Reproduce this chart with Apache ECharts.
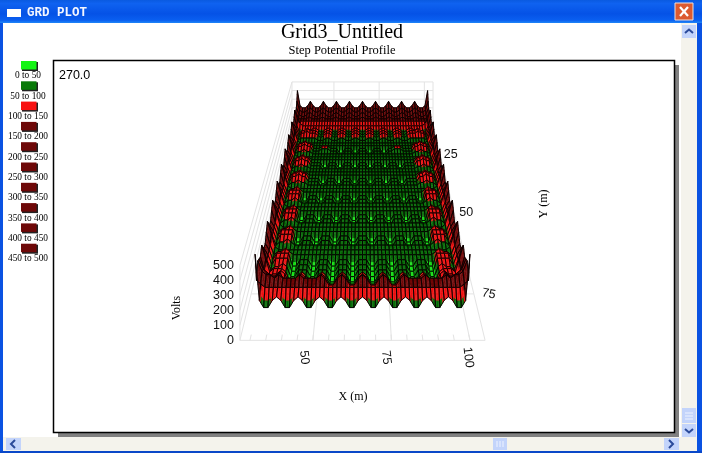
<!DOCTYPE html>
<html><head><meta charset="utf-8">
<style>html,body{margin:0;padding:0;background:#fff}#c{width:702px;height:453px}</style>
<script src="https://cdn.jsdelivr.net/npm/echarts@6/dist/echarts.min.js"></script>
</head><body><div id="c"></div>
<script>
// Surface heights. Each character is one node, in units of 25 V (0-9, a=250 ... k=500).
// Row 0 is the back edge of the surface, row 50 the front edge.
const surfaceRows = [
"g9889 b9889 b9889 b9889 b9889 b9889 b9889 b9889 b9889 b9889 g",
"c8778 98778 98778 98778 98778 98778 98778 98778 98778 98778 c",
"a7667 87667 87667 87667 87667 87667 87667 87667 87667 87667 a",
"96666 76666 76666 76666 76666 76666 76666 76666 76666 76666 9",
"86666 66666 66666 66666 66666 66666 66666 66666 66666 66666 8",
"c8655 55555 55555 55555 55555 55555 55555 55555 55555 55568 c",
"a6344 54554 34554 34554 34554 34554 34554 34554 34554 54436 a",
"86355 65554 34554 34554 34554 34554 34554 34554 34555 65536 8",
"86355 65554 34554 34554 34554 34554 34554 34554 34555 65536 8",
"a6344 44443 33443 33443 33443 33443 33443 33443 33444 44436 a",
"c8433 33333 33333 33333 33333 33333 33333 33333 33333 33348 c",
"a6344 54433 33333 33333 33333 33333 33333 33333 33344 54436 a",
"86355 65533 34443 33113 33113 33113 33113 34443 33355 65536 8",
"86355 65533 34443 33113 33113 33113 33113 34443 33355 65536 8",
"a6344 54433 33333 33333 33333 33333 33333 33333 33344 54436 a",
"c8433 33333 33333 33333 33333 33333 33333 33333 33333 33348 c",
"a6344 54433 33333 33333 33333 33333 33333 33333 33344 54436 a",
"86355 65533 33113 33113 33113 33113 33113 33113 33355 65536 8",
"86355 65533 33113 33113 33113 33113 33113 33113 33355 65536 8",
"a6344 54433 33333 33333 33333 33333 33333 33333 33344 54436 a",
"c8433 33333 33333 33333 33333 33333 33333 33333 33333 33348 c",
"a6344 54433 33333 33333 33333 33333 33333 33333 33344 54436 a",
"86355 65533 33113 33113 33113 33113 33113 33113 33355 65536 8",
"86355 65533 33113 33113 33113 33113 33113 33113 33355 65536 8",
"a6344 54433 33333 33333 33333 33333 33333 33333 33344 54436 a",
"c8433 33333 33333 33333 33333 33333 33333 33333 33333 33348 c",
"a6344 54333 33333 33333 33333 33333 33333 33333 33334 54436 a",
"86355 55113 33113 33113 33113 33113 33113 33113 33115 55536 8",
"86355 55113 33113 33113 33113 33113 33113 33113 33115 55536 8",
"a6344 54333 33333 33333 33333 33333 33333 33333 33334 54436 a",
"c8433 33333 33333 33333 33333 33333 33333 33333 33333 33348 c",
"a6344 54333 33333 33333 33333 33333 33333 33333 33334 54436 a",
"86355 55113 33113 33113 33113 33113 33113 33113 33115 55536 8",
"86355 55113 33113 33113 33113 33113 33113 33113 33115 55536 8",
"a6344 54333 33333 33333 33333 33333 33333 33333 33334 54436 a",
"c8433 33333 33333 33333 33333 33333 33333 33333 33333 33348 c",
"a6344 54333 33333 33333 33333 33333 33333 33333 33334 54436 a",
"86355 55113 33113 33113 33113 33113 33113 33113 33115 55536 8",
"86355 55113 33113 33113 33113 33113 33113 33113 33115 55536 8",
"a6344 54333 33333 33333 33333 33333 33333 33333 33334 54436 a",
"c8433 33333 33333 33333 33333 33333 33333 33333 33333 33348 c",
"a6344 54333 33333 33333 33333 33333 33333 33333 33334 54436 a",
"86355 55113 33113 33113 33113 33113 33113 33113 33115 55536 8",
"86355 55113 33113 33113 33113 33113 33113 33113 33115 55536 8",
"a6344 54113 33113 33113 33113 33113 33113 33113 33114 54436 a",
"c8455 54113 43113 43113 43113 43113 43113 43113 43114 55548 c",
"a6455 65224 54224 54224 54224 54224 54224 54224 54225 65546 a",
"b8766 75335 65335 65335 65335 65335 65335 65335 65335 76678 b",
"c9887 87777 87777 87557 87557 87557 87557 87777 87777 87889 c",
"87666 66666 66666 66666 66666 66666 66666 66666 66666 66667 8",
"h4224 54224 54224 54224 54224 54224 54224 54224 54224 54224 h"
];
const voltTicks = [0, 100, 200, 300, 400, 500];
const xTicks = [50, 75, 100];
const yTicks = [25, 50, 75];
const xMinorTicks = [30, 35, 40, 45, 50, 55, 60, 65, 70, 75, 80, 85, 90, 95, 100];
const legendLabels = ["0 to 50","50 to 100","100 to 150","150 to 200","200 to 250","250 to 300","300 to 350","350 to 400","400 to 450","450 to 500"];
const legendColors = ["#14f514","#087a08","#f81010","#6e0808","#6e0808","#6e0808","#6e0808","#6e0808","#6e0808","#6e0808"];
const bandColors = ["#14e014","#056a05","#ee1010","#6e0808"];

const heights = surfaceRows.map(r => r.replace(/ /g,'').split('').map(ch => parseInt(ch, 36) * 25));

// view of the 3D box
const surf = {x0: 29.8, dx: 1.44, y0: 8, dy: 1.44};
const box = {xMin: 26.8, xMax: 104.8, yMin: 8, yMax: 85.6};
function project(X, Y, V) {
  const w = 1 / (0.00740 - 0.0000388 * Y);
  return [362.5 + (X - 65.8) * w / 78, 125 + (w - 141) * 2.067 - (V || 0) * 0.15 * w / 245];
}

const cells = [];
const nr = heights.length, nc = heights[0].length;
for (let r = 0; r < nr - 1; r++) {
  const half = (nc - 1) / 2;
  for (let i = 0; i < half; i++) { cells.push([i, r]); cells.push([nc - 2 - i, r]); }
}

const SUB = 3;
function renderCell(params, api) {
  const c = api.value(0), r = api.value(1);
  const h00 = heights[r][c], h10 = heights[r][c + 1], h01 = heights[r + 1][c], h11 = heights[r + 1][c + 1];
  const hAt = (s, t) => (h00 * (1 - s) + h10 * s) * (1 - t) + (h01 * (1 - s) + h11 * s) * t;
  const pt = (s, t) => api.coord(project(surf.x0 + (c + s) * surf.dx, surf.y0 + (r + t) * surf.dy, hAt(s, t)));
  const kids = [];
  for (let j = 0; j < SUB; j++) for (let i = 0; i < SUB; i++) {
    const s0 = i / SUB, s1 = (i + 1) / SUB, t0 = j / SUB, t1 = (j + 1) / SUB;
    const v = hAt((s0 + s1) / 2, (t0 + t1) / 2);
    const band = v < 50 ? 0 : v < 100 ? 1 : v < 150 ? 2 : 3;
    kids.push({type: 'polygon', shape: {points: [pt(s0, t0), pt(s1, t0), pt(s1, t1), pt(s0, t1)]},
      style: {fill: bandColors[band], stroke: bandColors[band], lineWidth: 0.4}});
  }
  kids.push({type: 'polygon', shape: {points: [pt(0, 0), pt(1, 0), pt(1, 1), pt(0, 1)]},
    style: {fill: 'none', stroke: '#050101', lineWidth: 0.95}});
  return {type: 'group', children: kids};
}

function renderBox(params, api) {
  const kids = [];
  const line = (a, b) => {
    const p = api.coord(a), q = api.coord(b);
    kids.push({type: 'line', shape: {x1: p[0], y1: p[1], x2: q[0], y2: q[1]}, style: {stroke: '#e3e3e3', lineWidth: 1}});
  };
  const {xMin, xMax, yMin, yMax} = box;
  voltTicks.forEach(v => {
    line(project(xMin, yMin, v), project(xMax, yMin, v));
    line(project(xMin, yMin, v), project(xMin, yMax, v));
  });
  line(project(xMin, yMax, 0), project(xMin, yMax, 500));
  line(project(xMin, yMin, 0), project(xMin, yMin, 500));
  line(project(xMax, yMin, 0), project(xMax, yMin, 500));
  line(project(xMin, yMax, 0), project(xMax, yMax, 0));
  line(project(xMax, yMin, 0), project(xMax, yMax, 0));
  xTicks.forEach(x => { line(project(x, yMin, 0), project(x, yMax, 0)); line(project(x, yMin, 0), project(x, yMin, 500)); });
  yTicks.forEach(y => line(project(xMin, y, 0), project(xMax, y, 0)));
  xMinorTicks.forEach(x => line(project(x, yMax, 0), project(x, yMax - 1.2, 0)));
  const label = (t, pos, rot, font, align, dx, dy) => {
    const p = api.coord(pos);
    kids.push({type: 'text', x: p[0] + (dx || 0), y: p[1] + (dy || 0), rotation: rot || 0,
      style: {text: t, font: font, fill: '#111', align: align || 'center', verticalAlign: 'middle'}});
  };
  const sans = '12.5px "Liberation Sans"';
  voltTicks.forEach(v => label(String(v), project(xMin, yMax, v), 0, sans, 'right', -6, 0));
  xTicks.forEach(x => label(String(x), project(x, 90, 0), -1.45, sans, 'center', -6.5, -5));
  yTicks.forEach((y, i) => label(String(y), project(110, y, 0), i === 2 ? -0.2 : 0, sans, 'center', 0, 0));
  return {type: 'group', children: kids};
}

function renderLegend(params, api) {
  const i = api.value(0);
  const top = 61 + i * 20.3;
  const a = api.coord([21, top]);
  return {type: 'group', children: [
    {type: 'rect', shape: {x: a[0] + 1, y: a[1] + 1, width: 16, height: 9}, style: {fill: '#222'}},
    {type: 'rect', shape: {x: a[0], y: a[1], width: 15.5, height: 8.5}, style: {fill: legendColors[i]}},
    {type: 'text', x: a[0] + 7, y: a[1] + 15, style: {text: legendLabels[i], font: '9.4px "Liberation Serif"', fill: '#000', align: 'center', verticalAlign: 'middle'}}
  ]};
}

const chevron = (pts, col) => ({type: 'polyline', shape: {points: pts}, style: {stroke: col || '#2a4a9a', lineWidth: 2, fill: 'none'}});
const rect = (x, y, w, h, fill, extra) => Object.assign({type: 'rect', shape: {x, y, width: w, height: h}, style: Object.assign({fill}, extra || {})}, {silent: true});
const txt = (t, x, y, font, align, rot, col) => ({type: 'text', x, y, rotation: rot || 0, style: {text: t, font, fill: col || '#000', align: align || 'center', verticalAlign: 'middle'}});
const serif = '"Liberation Serif"';
const chrome = [
  rect(0, 0, 702, 453, '#ffffff'),
  {type: 'rect', shape: {x: 0, y: 0, width: 702, height: 23}, style: {fill: new echarts.graphic.LinearGradient(0, 0, 0, 1, [
    {offset: 0, color: '#0a5ae0'}, {offset: 0.15, color: '#0f62f0'}, {offset: 0.6, color: '#0552e6'}, {offset: 0.88, color: '#0a5ff0'}, {offset: 1, color: '#1f86f8'}])}},
  rect(0, 23, 3, 430, '#0a52e2'), rect(697, 23, 5, 430, '#0a52e2'), rect(0, 451, 702, 2, '#0a48c8'),
  rect(7, 9, 14, 8, '#ffffff'),
  txt('GRD PLOT', 27, 12.5, 'bold 12.5px "Liberation Mono"', 'left', 0, '#f4f6ff'),
  rect(675, 3, 18, 17, '#dc5a30', {stroke: '#f0e0d8', lineWidth: 1}),
  {type: 'line', shape: {x1: 680, y1: 7, x2: 688, y2: 16}, style: {stroke: '#fff', lineWidth: 2.2}},
  {type: 'line', shape: {x1: 688, y1: 7, x2: 680, y2: 16}, style: {stroke: '#fff', lineWidth: 2.2}},
  rect(681, 23, 16, 428, '#f4f3ec'),
  rect(3, 437, 694, 14, '#f4f3ec'),
  rect(682, 25, 14, 13, '#c3d4fb'), chevron([[685, 33], [689, 29.5], [693, 33]]),
  rect(682, 408, 14, 15, '#c3d4fb'),
  {type: 'line', shape: {x1: 685, y1: 413, x2: 693, y2: 413}, style: {stroke: '#eef3ff', lineWidth: 1}},
  {type: 'line', shape: {x1: 685, y1: 416, x2: 693, y2: 416}, style: {stroke: '#eef3ff', lineWidth: 1}},
  {type: 'line', shape: {x1: 685, y1: 419, x2: 693, y2: 419}, style: {stroke: '#eef3ff', lineWidth: 1}},
  rect(682, 424, 14, 13, '#c3d4fb'), chevron([[685, 429], [689, 432.5], [693, 429]]),
  rect(6, 438, 15, 12, '#c3d4fb'), chevron([[15, 440], [11, 444], [15, 448]]),
  rect(493, 438, 14, 12, '#c3d4fb'),
  {type: 'line', shape: {x1: 497, y1: 441, x2: 497, y2: 447}, style: {stroke: '#eef3ff', lineWidth: 1}},
  {type: 'line', shape: {x1: 500, y1: 441, x2: 500, y2: 447}, style: {stroke: '#eef3ff', lineWidth: 1}},
  {type: 'line', shape: {x1: 503, y1: 441, x2: 503, y2: 447}, style: {stroke: '#eef3ff', lineWidth: 1}},
  rect(664, 438, 15, 12, '#c3d4fb'), chevron([[669, 440], [673, 444], [669, 448]]),
  rect(58, 65, 621, 372, '#808080'),
  rect(53.5, 60.5, 621, 372, '#ffffff', {stroke: '#000', lineWidth: 1.5}),
  txt('Grid3_Untitled', 342, 33, '20px ' + serif),
  txt('Step Potential Profile', 342, 51, '12.5px ' + serif),
  txt('270.0', 59, 75.5, '12.5px "Liberation Sans"', 'left'),
  txt('X (m)', 353, 397, '12px ' + serif),
  txt('Y (m)', 544, 204, '12px ' + serif, 'center', Math.PI / 2),
  txt('Volts', 177, 308, '12px ' + serif, 'center', Math.PI / 2)
];

const chart = echarts.init(document.getElementById('c'), null, {renderer: 'canvas'});
chart.setOption({
  animation: false,
  backgroundColor: '#fff',
  graphic: {z: 0, elements: chrome},
  grid: {left: 0, right: 0, top: 0, bottom: 0},
  xAxis: {type: 'value', min: 0, max: 702, show: false},
  yAxis: {type: 'value', min: 0, max: 453, inverse: true, show: false},
  tooltip: {show: false},
  series: [
    {type: 'custom', name: 'box', coordinateSystem: 'cartesian2d', data: [[0, 0]], renderItem: renderBox, clip: false, silent: true, z: 3},
    {type: 'custom', name: 'Step Potential', coordinateSystem: 'cartesian2d', data: cells, renderItem: renderCell, clip: false, silent: true, progressive: 0, z: 4},
    {type: 'custom', name: 'legend', coordinateSystem: 'cartesian2d', data: legendLabels.map((_, i) => [i, 0]), renderItem: renderLegend, clip: false, silent: true, z: 4}
  ]
});
</script></body></html>
